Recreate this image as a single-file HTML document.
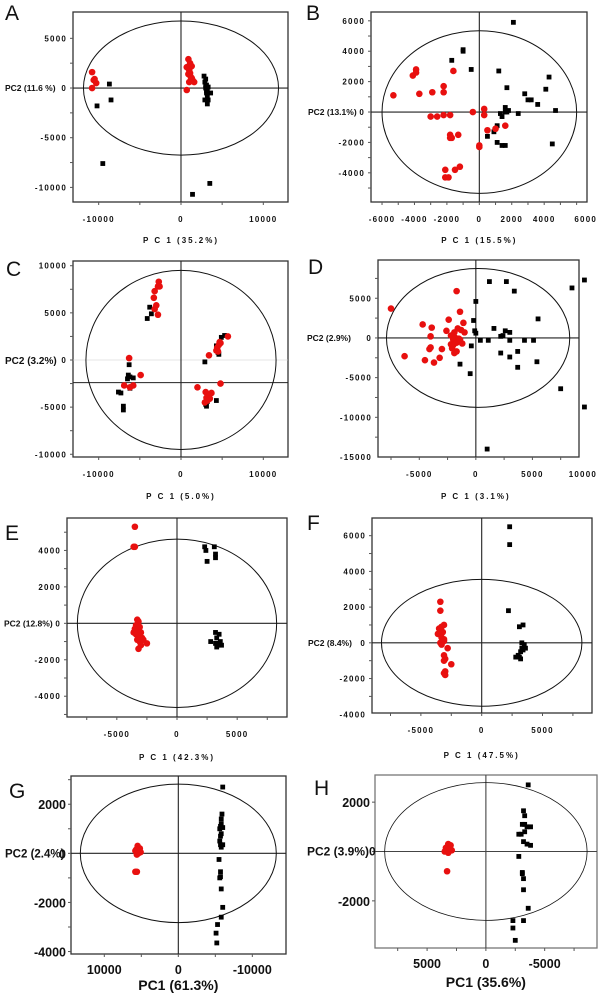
<!DOCTYPE html>
<html><head><meta charset="utf-8"><style>
html,body{margin:0;padding:0;background:#fff;}
svg{display:block;font-family:"Liberation Sans",Arial,sans-serif;}
.tk{font-size:8px;font-weight:bold;letter-spacing:1.2px;fill:#111;}
.tk2{font-size:12.5px;font-weight:bold;fill:#111;}
.yt{font-size:8.5px;font-weight:bold;fill:#111;}
.yt2{font-size:12px;font-weight:bold;fill:#111;}
.xt{font-size:8px;font-weight:bold;letter-spacing:2px;fill:#111;}
.xt2{font-size:14px;font-weight:bold;fill:#111;}
.lt{font-size:21px;fill:#111;}
</style></head><body>
<svg id="fig" width="600" height="995" viewBox="0 0 600 995" xmlns="http://www.w3.org/2000/svg"></svg>
<script>
// ---- data (score values) ----
const aRed=[[-10800,1600],[-10600,800],[-10300,500],[-10800,0],[-10500,900],[900,2900],[1100,2500],[700,2100],[1000,1800],[1300,2200],[900,1400],[1200,1100],[1400,800],[1000,600],[1600,600],[700,-200],[1100,1500],[1300,1000]];
const aBlack=[[-8700,400],[-8500,-1200],[-10200,-1800],[-9500,-7600],[1400,-10700],[3500,-9600],[2800,1200],[3000,900],[2900,600],[3100,300],[3000,0],[3200,-200],[3100,-500],[3600,-500],[3200,-900],[2900,-1200],[3300,-1200],[3200,-1600],[3000,200],[3300,100],[3100,-300]];
const bRed=[[-5300,1100],[-4100,2400],[-3900,2800],[-3900,2600],[-3700,1200],[-2900,1300],[-2200,1300],[-2200,1700],[-1600,2700],[-3000,-300],[-2600,-300],[-2200,-200],[-1800,-200],[-400,0],[300,200],[300,-200],[-1800,-1500],[-1800,-1700],[-1700,-1700],[-1300,-1500],[0,-2200],[0,-2300],[500,-1200],[1000,-1100],[1600,-900],[-2100,-3800],[-2100,-4300],[-1900,-4300],[-1500,-3800],[-1200,-3600]];
const bBlack=[[2100,5900],[-1000,4100],[-1000,4000],[-1700,3400],[-500,2800],[1200,2700],[4300,2300],[1700,1600],[4100,1500],[2800,1200],[3000,800],[3200,800],[3600,500],[4700,100],[1600,300],[1600,0],[1300,-100],[1400,-300],[1800,100],[2400,-100],[1100,-900],[900,-1300],[500,-1600],[1100,-2000],[1400,-2200],[1600,-2200],[4500,-2100],[1700,0]];
const cRed=[[-2700,8300],[-2800,7800],[-2600,7800],[-3200,7300],[-3300,6600],[-3000,5800],[-3200,5400],[-2800,4800],[5700,2500],[4800,1800],[4600,1600],[4400,1300],[4300,1000],[4500,900],[3400,500],[4700,1900],[2000,-2900],[4800,-2500],[3000,-3400],[3700,-3500],[3400,-3800],[3100,-4000],[3500,-4100],[2900,-4500],[3200,-4300],[-6300,200],[-4900,-1600],[-6900,-2700],[-5800,-2700],[-6200,-2900]];
const cBlack=[[-3800,5600],[-3600,4900],[-4100,4400],[5300,2600],[4900,2400],[4300,1500],[4500,800],[4600,600],[2900,-200],[-6300,-500],[-6400,-1600],[-6200,-1800],[-6500,-2000],[-5800,-1900],[-6200,-3000],[-7600,-3400],[-7300,-3500],[-7000,-4900],[-7000,-5300],[3000,-4700],[3100,-4900],[4300,-4300],[3200,-4400]];
const dRed=[[-7500,3700],[-6300,-2300],[-1700,5900],[-1400,3300],[-4700,1700],[-3900,1300],[-2400,2300],[-1100,1900],[-4000,200],[-2600,900],[-1600,1200],[-1900,700],[-1300,1000],[-1000,700],[-2200,300],[-1800,0],[-2000,-200],[-1500,-100],[-1200,-700],[-4100,-1400],[-4000,-1200],[-3000,-1400],[-2100,-1300],[-1900,-1900],[-1700,-1700],[-2200,-800],[-4500,-2800],[-3700,-3100],[-3200,-2500],[-1700,-600],[-2000,-900],[-1400,-200]];
const dBlack=[[1200,7100],[2700,7100],[3400,5900],[8500,6300],[9600,7300],[0,4600],[5500,2400],[-200,2200],[1600,1200],[-100,900],[2600,900],[0,600],[3000,700],[2400,300],[2200,200],[400,-300],[1100,-300],[3000,-300],[4300,-300],[5100,-300],[-400,-1000],[2200,-1900],[3700,-1700],[3000,-2400],[5400,-3000],[-1400,-3300],[3700,-3700],[-500,-4500],[7500,-6400],[9600,-8700],[1000,-14000]];
const eRed=[[-3500,5300],[-3600,4200],[-3500,4200],[-3300,200],[-3200,100],[-3400,-100],[-3300,-300],[-3100,-200],[-3600,-500],[-3400,-600],[-3200,-700],[-3000,-500],[-2900,-800],[-3100,-1000],[-3000,-1200],[-3200,-1400],[-2500,-1100],[-3300,-900],[-3500,-300],[-2800,-900]];
const eBlack=[[2300,4200],[2400,4000],[3100,4200],[3200,3800],[3200,3600],[2500,3400],[3200,-500],[3500,-600],[3300,-800],[3600,-1000],[2800,-1000],[3400,-1200],[3300,-1300],[3700,-1200],[3500,-1100],[3200,-1100]];
const fRed=[[-3400,2300],[-3400,1800],[-3100,1000],[-3300,900],[-3500,800],[-3200,600],[-3600,500],[-3300,300],[-3100,200],[-3400,0],[-3100,100],[-2800,-300],[-3100,-700],[-3000,-900],[-3100,-1000],[-2500,-1200],[-3000,-1600],[-3000,-1800],[-3100,-1700],[-3300,-100]];
const fBlack=[[2300,6500],[2300,5500],[2200,1800],[3400,1000],[3100,900],[3300,0],[3500,-100],[3300,-300],[3600,-300],[3400,-400],[3200,-500],[3000,-700],[2800,-800],[3100,-800],[3200,-900]];
const gRed=[[5500,300],[5200,200],[5800,100],[5400,0],[5100,50],[5600,-50],[5300,100],[5700,150],[5600,-750],[5800,-750]];
const gBlack=[[-6000,2700],[-5900,1600],[-5800,1400],[-5800,1200],[-5700,1100],[-6000,1050],[-5600,1000],[-5800,800],[-5700,700],[-5600,500],[-5700,350],[-6000,350],[-5800,250],[-5500,-250],[-5700,-750],[-5700,-950],[-5600,-1000],[-5800,-1450],[-6000,-2200],[-5800,-2600],[-5300,-2900],[-5100,-3250],[-5200,-3650]];
const hRed=[[3200,300],[3000,250],[3400,150],[3100,100],[3300,0],[2900,50],[3500,0],[3200,-50],[3300,-800]];
const hBlack=[[-3600,2700],[-3200,1650],[-3300,1450],[-3100,1100],[-3300,1100],[-3500,1000],[-3800,1000],[-3300,800],[-2800,700],[-3000,700],[-3200,400],[-3500,300],[-3800,250],[-2800,-200],[-3100,-850],[-3100,-900],[-3200,-1100],[-3200,-1550],[-3600,-2300],[-2300,-2800],[-3200,-2800],[-2300,-3100],[-2500,-3600]];
// tick labels
const aXTicks=[-10000,0,10000], aYTicks=[5000,0,-5000,-10000];
const bXTicks=[-6000,-4000,-2000,0,2000,4000,6000], bYTicks=[6000,4000,2000,0,-2000,-4000];
const cXTicks=[-10000,0,10000], cYTicks=[10000,5000,0,-5000,-10000];
const dXTicks=[-5000,0,5000,10000], dYTicks=[5000,0,-5000,-10000,-15000];
const eXTicks=[-5000,0,5000], eYTicks=[4000,2000,0,-2000,-4000];
const fXTicks=[-5000,0,5000], fYTicks=[6000,4000,2000,0,-2000,-4000];
const gXTicks=[10000,0,-10000], gYTicks=[2000,0,-2000,-4000];
const hXTicks=[5000,0,-5000], hYTicks=[2000,-2000];

const panels=[
 {id:'a',L:'A',lx:5,ly:20,f:[73,12,288,202],xd:[-13120,13000],yd:[7650,-11470],el:[0,0,11850,6750],red:aRed,blk:aBlack,xt:aXTicks,yt:aYTicks,yl:'PC2 (11.6 %)',ylx:5,xl:'P C 1 (35.2%)',xly:243,big:false},
 {id:'b',L:'B',lx:306,ly:20,f:[371,12,587,202],xd:[-6680,6640],yd:[6580,-5920],el:[0,0,6000,5350],red:bRed,blk:bBlack,xt:bXTicks,yt:bYTicks,yl:'PC2 (13.1%)',ylx:308,xl:'P C 1 (15.5%)',xly:243,big:false},
 {id:'c',L:'C',lx:6,ly:276,f:[73,261,288,457],xd:[-13120,13000],yd:[10500,-10290],el:[0,0,11550,9500],red:cRed,blk:cBlack,xt:cXTicks,yt:cYTicks,yl:'PC2 (3.2%)',ylx:5,xl:'P C 1 (5.0%)',xly:499,big:false,hline:-2400},
 {id:'d',L:'D',lx:308,ly:274,f:[378,260,579,457],xd:[-8650,9120],yd:[9820,-15000],el:[200,0,8100,8750],red:dRed,blk:dBlack,xt:dXTicks,yt:dYTicks,yl:'PC2 (2.9%)',ylx:307,xl:'P C 1 (3.1%)',xly:499,big:false},
 {id:'e',L:'E',lx:5,ly:540,f:[67,518,287,717],xd:[-9140,9140],yd:[5780,-5140],el:[0,0,8280,4620],red:eRed,blk:eBlack,xt:eXTicks,yt:eYTicks,yl:'PC2 (12.8%)',ylx:4,xl:'P C 1 (42.3%)',xly:760,big:false},
 {id:'f',L:'F',lx:307,ly:530,f:[372,518,592,713],xd:[-9020,9070],yd:[6990,-3930],el:[0,0,8240,3550],red:fRed,blk:fBlack,xt:fXTicks,yt:fYTicks,yl:'PC2 (8.4%)',ylx:308,xl:'P C 1 (47.5%)',xly:758,big:false},
 {id:'g',L:'G',lx:9,ly:798,f:[71,776,286,954],xd:[14500,-14550],yd:[3150,-4100],el:[0,0,13240,2820],red:gRed,blk:gBlack,xt:gXTicks,yt:gYTicks,yl:'PC2 (2.4%)',ylx:5,xl:'PC1 (61.3%)',xly:990,big:true},
 {id:'h',L:'H',lx:314,ly:795,f:[375,775,597,948],xd:[9430,-9450],yd:[3100,-3910],el:[0,0,8610,2790],red:hRed,blk:hBlack,xt:hXTicks,yt:hYTicks,yl:'PC2 (3.9%)0',ylx:307,xl:'PC1 (35.6%)',xly:987,big:true}
];
const NS='http://www.w3.org/2000/svg';
const svg=document.getElementById('fig');
function mk(tag,attrs,parent){const e=document.createElementNS(NS,tag);for(const k in attrs)e.setAttribute(k,attrs[k]);(parent||svg).appendChild(e);return e;}
panels.forEach(p=>{
 const g=mk('g',{});
 
 
 const [x0,y0,x1,y1]=p.f;
 const sx=v=>x0+(v-p.xd[0])/(p.xd[1]-p.xd[0])*(x1-x0);
 const sy=v=>y0+(v-p.yd[0])/(p.yd[1]-p.yd[0])*(y1-y0);
 const frameCol=p.id==='h'?'#777':'#333';
 const fr=mk('rect',{x:x0,y:y0,width:x1-x0,height:y1-y0,fill:'none',stroke:frameCol,'stroke-width':1.3},g);
 
 
 const xs=p.xt[1]-p.xt[0];
 for(let i=-4;i<=(p.xt.length+3)*2;i++){const v=p.xt[0]+i*xs/2;const X=sx(v);if(X<x0+2||X>x1-2)continue;mk('line',{x1:X,x2:X,y1:y1,y2:y1+3,stroke:'#555','stroke-width':1},g);}
 const ys=p.yt.length>1?p.yt[1]-p.yt[0]:-2000;
 for(let i=-6;i<=(p.yt.length+4)*2;i++){const v=p.yt[0]+i*ys/2;const Y=sy(v);if(Y<y0+2||Y>y1-2)continue;mk('line',{x1:x0-3,x2:x0,y1:Y,y2:Y,stroke:'#555','stroke-width':1},g);}
 if(p.id==='c'){const z=mk('line',{x1:x0,x2:x1,y1:sy(0),y2:sy(0),stroke:'#ccc','stroke-width':0.6},g);}
 const hy=p.hline!==undefined?p.hline:0;
 const ax=mk('line',{x1:x0,x2:x1,y1:sy(hy),y2:sy(hy),stroke:p.id==='h'?'#444':'#222','stroke-width':1.1},g);
 
 
 const ay=mk('line',{x1:sx(0),x2:sx(0),y1:y0,y2:y1,stroke:p.id==='h'?'#444':'#222','stroke-width':1.1},g);
 
 
 const [ecx,ecy,erx,ery]=p.el;
 const el=mk('ellipse',{cx:sx(ecx),cy:sy(ecy),rx:Math.abs(sx(erx)-sx(0)),ry:Math.abs(sy(ery)-sy(0)),fill:'none',stroke:'#111','stroke-width':p.id==='h'?0.8:1},g);
 
 
 p.blk.forEach(d=>{const r=mk('rect',{x:sx(d[0])-2.4,y:sy(d[1])-2.4,width:4.8,height:4.8,fill:'#000'},g);
  
  });
 p.red.forEach(d=>{const c=mk('circle',{cx:sx(d[0]),cy:sy(d[1]),r:3.3,fill:'#e8100f'},g);
  
  });
 p.xt.forEach(v=>{let X=sx(v),anc='middle';if(X>576){X=597;anc='end';}
  const t=mk('text',{x:X,y:y1+20,'text-anchor':anc,class:p.big?'tk2':'tk'},g);t.textContent=v;
  
  });
 p.yt.forEach(v=>{const t=mk('text',{x:x0-(p.big?5:6),y:sy(v)+(p.big?5:3),'text-anchor':'end',class:p.big?'tk2':'tk'},g);t.textContent=v;
  
  });
 const big2=p.big||p.id==='c';
 const yl=mk('text',{x:p.ylx,y:sy(0)+(big2?4:3),class:big2?'yt2':'yt'},g);yl.textContent=p.yl;
 if(p.id==='c'){yl.setAttribute('style','font-size:10px');}
 if(p.id==='g'){yl.setAttribute('style','font-size:11.5px');}
 
 
 const xl=mk('text',{x:sx(0),y:p.xly,'text-anchor':'middle',class:p.big?'xt2':'xt'},g);xl.textContent=p.xl;
 
 
 const lt=mk('text',{x:p.lx,y:p.ly,class:'lt'},g);lt.textContent=p.L;
 
 
});
</script>
</body></html>
